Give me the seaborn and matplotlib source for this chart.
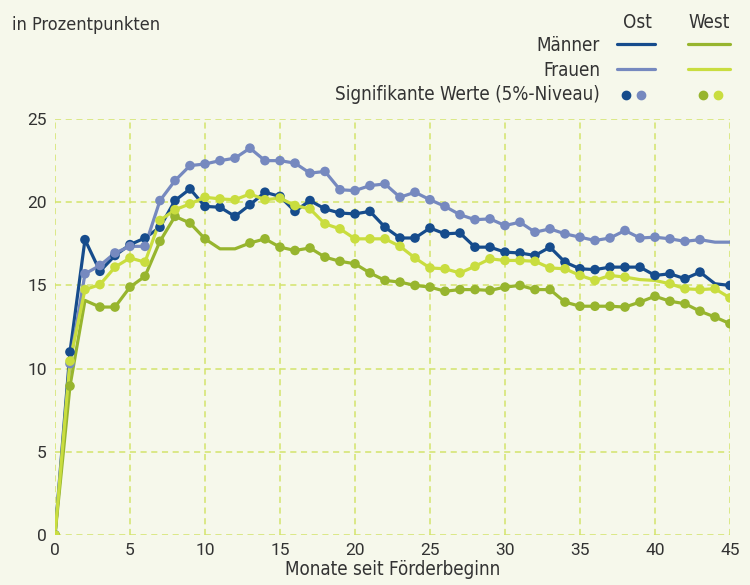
import matplotlib
matplotlib.use('Agg')
import matplotlib.pyplot as plt
import seaborn as sns
import pandas as pd

months = list(range(46))

ost_maenner = [0, 11.0, 17.75, 15.85, 16.8, 17.45, 17.85, 18.5, 20.1, 20.8, 19.75, 19.7, 19.15, 19.85, 20.6, 20.35,
               19.45, 20.1, 19.6, 19.35, 19.3, 19.45, 18.5, 17.85, 17.85, 18.45, 18.1, 18.15, 17.3, 17.3, 17.0,
               16.95, 16.8, 17.3, 16.4, 16.0, 15.95, 16.1, 16.1, 16.1, 15.6, 15.7, 15.4, 15.8, 15.1, 15.0]
ost_frauen = [0, 10.3, 15.7, 16.2, 16.95, 17.35, 17.35, 20.1, 21.3, 22.2, 22.3, 22.5, 22.65, 23.25, 22.5, 22.5,
              22.35, 21.75, 21.85, 20.75, 20.7, 21.0, 21.1, 20.3, 20.6, 20.15, 19.75, 19.25, 18.95, 19.0, 18.6,
              18.8, 18.2, 18.4, 18.1, 17.9, 17.7, 17.85, 18.3, 17.85, 17.9, 17.8, 17.65, 17.75, 17.6, 17.6]
west_maenner = [0, 8.95, 14.1, 13.7, 13.7, 14.9, 15.55, 17.65, 19.15, 18.75, 17.8, 17.2, 17.2, 17.55, 17.8, 17.3,
                17.1, 17.25, 16.7, 16.45, 16.3, 15.75, 15.3, 15.2, 15.0, 14.9, 14.65, 14.75, 14.75, 14.7, 14.9,
                15.0, 14.75, 14.75, 14.0, 13.75, 13.75, 13.75, 13.7, 14.0, 14.35, 14.05, 13.9, 13.45, 13.1, 12.7]
west_frauen = [0, 10.45, 14.75, 15.05, 16.1, 16.65, 16.4, 18.9, 19.55, 19.9, 20.3, 20.2, 20.15, 20.5, 20.15, 20.25,
               19.8, 19.6, 18.7, 18.4, 17.8, 17.8, 17.8, 17.35, 16.65, 16.05, 16.0, 15.75, 16.15, 16.6, 16.5,
               16.5, 16.45, 16.05, 16.0, 15.6, 15.3, 15.6, 15.5, 15.35, 15.3, 15.1, 14.8, 14.75, 14.8, 14.25]

# months without a significant value (no dot)
not_sig = {
    'Ost Männer': [44],
    'Ost Frauen': [44, 45],
    'West Männer': [2, 11, 12],
    'West Frauen': [39, 40],
}

series_names = ['Ost Männer', 'Ost Frauen', 'West Männer', 'West Frauen']
colors = {'Ost Männer': '#164c8c', 'Ost Frauen': '#7689bf',
          'West Männer': '#97b52e', 'West Frauen': '#c9dd3f'}

frames = []
for name, vals in zip(series_names, [ost_maenner, ost_frauen, west_maenner, west_frauen]):
    d = pd.DataFrame({'month': months, 'value': vals, 'series': name})
    d['sig'] = ~d['month'].isin(not_sig[name])
    frames.append(d)
df = pd.concat(frames, ignore_index=True)

bg = '#f6f8eb'
text_col = '#333333'
grid_col = '#d3e46c'

sns.set_style('white')
plt.rcParams['font.family'] = ['DejaVu Sans']
plt.rcParams['font.stretch'] = 'condensed'

fig = plt.figure(figsize=(7.5, 5.85), dpi=100, facecolor=bg)
ax = fig.add_axes([0.0733, 0.0855, 0.9, 0.711])
ax.set_facecolor(bg)

sns.lineplot(data=df, x='month', y='value', hue='series', hue_order=series_names,
             palette=colors, linewidth=2.3, legend=False, ax=ax, zorder=3)
sns.scatterplot(data=df[df['sig']], x='month', y='value', hue='series', hue_order=series_names,
                palette=colors, s=48, linewidth=0, legend=False, ax=ax, zorder=4)

ax.set_xlim(0, 45)
ax.set_ylim(0, 25)
ax.set_xticks(range(0, 46, 5))
ax.set_yticks(range(0, 26, 5))
for s in ax.spines.values():
    s.set_visible(False)
ax.grid(True, color=grid_col, linestyle=(0, (4, 3)), linewidth=1.1)
ax.set_axisbelow(True)
ax.tick_params(length=0, pad=6, labelsize=12.5, colors=text_col)
for lab in ax.get_xticklabels() + ax.get_yticklabels():
    lab.set_family(['Roboto', 'DejaVu Sans'])
    lab.set_stretch('normal')
ax.set_xlabel('Monate seit Förderbeginn', fontsize=13.5, color=text_col, labelpad=1)
ax.set_ylabel('')

# header text and hand-made legend
fig.text(0.016, 0.957, 'in Prozentpunkten', fontsize=13, color=text_col, va='center', ha='left')
fig.text(0.850, 0.962, 'Ost', fontsize=13.5, color=text_col, va='center', ha='center')
fig.text(0.946, 0.962, 'West', fontsize=13.5, color=text_col, va='center', ha='center')
rows_y = [0.923, 0.880, 0.838]
fig.text(0.800, rows_y[0], 'Männer', fontsize=13.5, color=text_col, va='center', ha='right')
fig.text(0.800, rows_y[1], 'Frauen', fontsize=13.5, color=text_col, va='center', ha='right')
fig.text(0.800, rows_y[2], 'Signifikante Werte (5%-Niveau)', fontsize=13.5, color=text_col, va='center', ha='right')
fig.add_artist(plt.Line2D([0.823, 0.873], [rows_y[0] + 0.002] * 2, color=colors['Ost Männer'], lw=2.3))
fig.add_artist(plt.Line2D([0.917, 0.973], [rows_y[0] + 0.002] * 2, color=colors['West Männer'], lw=2.3))
fig.add_artist(plt.Line2D([0.823, 0.873], [rows_y[1] + 0.002] * 2, color=colors['Ost Frauen'], lw=2.3))
fig.add_artist(plt.Line2D([0.917, 0.973], [rows_y[1] + 0.002] * 2, color=colors['West Frauen'], lw=2.3))
for xx, key in [(0.834, 'Ost Männer'), (0.854, 'Ost Frauen'), (0.937, 'West Männer'), (0.957, 'West Frauen')]:
    fig.add_artist(plt.Line2D([xx], [rows_y[2]], marker='o', markersize=6, color=colors[key], lw=0))

fig.savefig('out.png', dpi=100, facecolor=bg)
